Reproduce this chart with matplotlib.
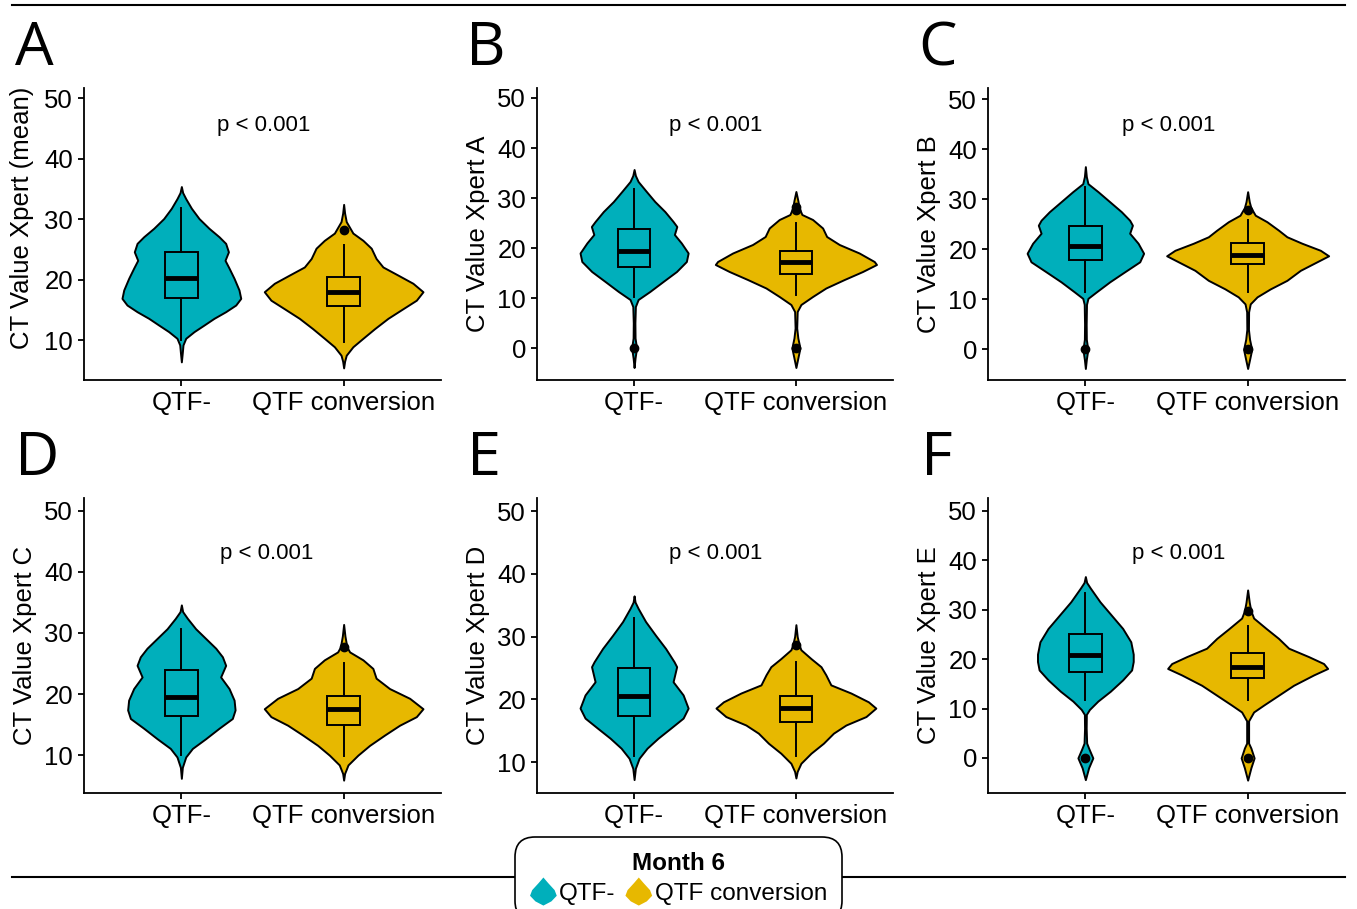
import numpy as np
import matplotlib
matplotlib.use("Agg")
import matplotlib.pyplot as plt
from matplotlib.lines import Line2D
from matplotlib.patches import Patch, Polygon
from matplotlib.legend_handler import HandlerPatch

plt.rcParams['font.family'] = ['Liberation Sans', 'DejaVu Sans']

# groups and colours
groups = ["QTF-", "QTF conversion"]
colors = ["#00AFBB", "#E7B800"]
letters = ["A", "B", "C", "D", "E", "F"]
ylabels = ["CT Value Xpert (mean)", "CT Value Xpert A", "CT Value Xpert B",
           "CT Value Xpert C", "CT Value Xpert D", "CT Value Xpert E"]
p_text = "p < 0.001"

# violin outlines: CT value levels and half widths
a_neg_y = [35.4, 34.4, 33.4, 31.8, 30.1, 28.5, 27.1, 26.0, 24.6, 23.2, 21.9, 20.2,
           18.3, 16.9, 15.8, 14.7, 13.6, 12.5, 11.4, 10.3, 9.2, 8.0, 6.4]
a_neg_w = [0, 0.008, 0.027, 0.062, 0.109, 0.17, 0.232, 0.273, 0.29, 0.269, 0.294, 0.325,
           0.355, 0.366, 0.335, 0.273, 0.201, 0.14, 0.078, 0.027, 0.01, 0.006, 0]
a_conv_y = [32.45, 31.0, 29.6, 27.7, 26.5, 25.2, 23.5, 22.1, 20.75, 19.4, 18.0, 16.6,
            15.2, 13.6, 11.9, 10.3, 8.9, 7.5, 6.5, 5.4]
a_conv_w = [0, 0.006, 0.016, 0.057, 0.119, 0.17, 0.2, 0.242, 0.335, 0.427, 0.489, 0.448,
            0.366, 0.273, 0.191, 0.119, 0.057, 0.016, 0.006, 0]

b_neg_y = [35.7, 34.5, 33.3, 31.3, 29.3, 27.3, 25.3, 24.3, 22.7, 21.0, 19.0, 17.3,
           15.3, 13.3, 11.3, 9.7, 8.3, 5.0, 2.0, 0.0, -2.0, -3.9]
b_neg_w = [0, 0.008, 0.025, 0.076, 0.128, 0.19, 0.241, 0.264, 0.249, 0.292, 0.334, 0.323,
           0.262, 0.179, 0.097, 0.025, 0.008, 0.005, 0.006, 0.015, 0.006, 0]
b_conv_y = [31.3, 29.5, 28.0, 26.7, 25.7, 24.0, 22.3, 20.7, 19.0, 17.3, 16.7, 15.3,
            13.7, 12.0, 10.3, 8.7, 7.3, 4.0, 2.0, 0.0, -2.0, -3.9]
b_conv_w = [0, 0.012, 0.02, 0.037, 0.103, 0.165, 0.19, 0.268, 0.391, 0.484, 0.498, 0.412,
            0.299, 0.185, 0.103, 0.031, 0.008, 0.005, 0.012, 0.025, 0.012, 0]

c_neg_y = [36.5, 34.5, 33.1, 31.5, 29.5, 27.5, 25.8, 24.8, 23.2, 21.2, 19.2, 17.5,
           15.5, 13.5, 11.5, 10.2, 9.0, 5.0, 2.0, 0.0, -2.0, -3.8]
c_neg_w = [0, 0.006, 0.016, 0.078, 0.15, 0.222, 0.273, 0.29, 0.273, 0.325, 0.359, 0.335,
           0.242, 0.15, 0.068, 0.016, 0.007, 0.005, 0.006, 0.015, 0.006, 0]
c_conv_y = [31.5, 29.5, 28.3, 26.8, 25.5, 23.8, 22.5, 21.2, 19.8, 18.7, 17.5, 15.8,
            13.8, 12.1, 10.5, 9.1, 7.5, 4.0, 2.0, 0.0, -2.0, -3.8]
c_conv_w = [0, 0.01, 0.02, 0.047, 0.119, 0.191, 0.242, 0.335, 0.448, 0.499, 0.427, 0.325,
            0.242, 0.14, 0.058, 0.016, 0.006, 0.005, 0.012, 0.025, 0.012, 0]

d_neg_y = [34.6, 33.5, 32.4, 30.7, 29.1, 27.5, 26.1, 24.7, 22.8, 20.9, 19.0, 17.4,
           16.0, 14.4, 12.7, 11.1, 9.7, 8.0, 6.2]
d_neg_w = [0, 0.008, 0.037, 0.088, 0.15, 0.212, 0.253, 0.273, 0.242, 0.294, 0.325, 0.331,
           0.314, 0.232, 0.15, 0.068, 0.027, 0.006, 0]
d_conv_y = [31.4, 29.5, 27.7, 26.9, 25.6, 24.2, 22.6, 20.9, 19.3, 17.6, 16.3, 14.9,
            13.3, 11.6, 10.0, 8.4, 7.0, 5.9]
d_conv_w = [0, 0.008, 0.02, 0.037, 0.119, 0.18, 0.2, 0.283, 0.407, 0.489, 0.448, 0.345,
            0.253, 0.16, 0.088, 0.027, 0.006, 0]

e_neg_y = [36.5, 35.5, 34.5, 32.4, 30.2, 28.1, 26.0, 25.2, 22.8, 20.7, 18.6, 17.0,
           15.4, 13.8, 12.2, 10.6, 9.0, 7.2]
e_neg_w = [0, 0.006, 0.025, 0.071, 0.133, 0.195, 0.247, 0.263, 0.241, 0.303, 0.334, 0.303,
           0.226, 0.148, 0.08, 0.031, 0.008, 0]
e_conv_y = [31.9, 30.0, 28.65, 27.9, 26.5, 25.2, 23.9, 22.3, 21.0, 19.6, 18.6, 17.25,
            15.9, 14.6, 13.0, 11.4, 9.8, 8.5, 7.45]
e_conv_w = [0, 0.008, 0.02, 0.031, 0.093, 0.155, 0.185, 0.216, 0.34, 0.448, 0.494, 0.433,
            0.309, 0.232, 0.17, 0.093, 0.031, 0.008, 0]

f_neg_y = [36.7, 35.5, 34.4, 31.6, 28.9, 26.2, 23.5, 21.0, 19.5, 17.8, 15.8, 13.5,
           11.5, 9.8, 8.8, 6.0, 3.0, 2.0, 0.0, -2.0, -4.4]
f_neg_w = [0, 0.008, 0.03, 0.09, 0.16, 0.23, 0.28, 0.295, 0.295, 0.285, 0.23, 0.154,
           0.077, 0.025, 0.006, 0.005, 0.008, 0.02, 0.046, 0.02, 0]
f_conv_y = [34.0, 31.5, 29.75, 28.3, 26.2, 24.2, 22.2, 20.5, 19.1, 18.1, 16.8, 14.7,
            12.7, 10.7, 9.3, 7.5, 3.0, 2.0, 0.0, -2.0, -4.5]
f_conv_w = [0, 0.01, 0.02, 0.037, 0.114, 0.19, 0.253, 0.376, 0.468, 0.493, 0.407, 0.283,
            0.191, 0.099, 0.037, 0.006, 0.006, 0.02, 0.04, 0.02, 0]

# box stats: whisker low, Q1, median, Q3, whisker high
a_neg_box, a_conv_box = [10.0, 17.0, 20.2, 24.5, 31.8], [9.7, 15.6, 18.0, 20.5, 25.7]
b_neg_box, b_conv_box = [10.3, 16.2, 19.3, 23.8, 31.7], [10.7, 14.9, 17.2, 19.3, 25.0]
c_neg_box, c_conv_box = [11.5, 17.8, 20.6, 24.6, 32.5], [11.5, 17.1, 18.8, 21.3, 25.8]
d_neg_box, d_conv_box = [10.0, 16.4, 19.55, 23.9, 30.7], [9.9, 14.9, 17.6, 19.7, 25.1]
e_neg_box, e_conv_box = [10.9, 17.3, 20.5, 24.95, 33.0], [10.9, 16.45, 18.6, 20.5, 25.9]
f_neg_box, f_conv_box = [11.7, 17.4, 20.8, 25.1, 33.3], [11.7, 16.25, 18.5, 21.2, 26.6]

# outliers
a_neg_out, a_conv_out = [], [28.2]
b_neg_out, b_conv_out = [0], [0, 27.6, 28.2]
c_neg_out, c_conv_out = [0], [0, 27.9]
d_neg_out, d_conv_out = [], [27.7]
e_neg_out, e_conv_out = [], [28.65]
f_neg_out, f_conv_out = [0], [0, 29.75]

# axis ranges and ticks
ylims = [(3.4, 51.7), (-6.4, 52.0), (-6.1, 52.2), (3.8, 52.1), (5.06, 52.1), (-7.1, 52.6)]
yticks = [[10, 20, 30, 40, 50], [0, 10, 20, 30, 40, 50], [0, 10, 20, 30, 40, 50],
          [10, 20, 30, 40, 50], [10, 20, 30, 40, 50], [0, 10, 20, 30, 40, 50]]

panels = [
    ((a_neg_y, a_neg_w, a_neg_box, a_neg_out), (a_conv_y, a_conv_w, a_conv_box, a_conv_out)),
    ((b_neg_y, b_neg_w, b_neg_box, b_neg_out), (b_conv_y, b_conv_w, b_conv_box, b_conv_out)),
    ((c_neg_y, c_neg_w, c_neg_box, c_neg_out), (c_conv_y, c_conv_w, c_conv_box, c_conv_out)),
    ((d_neg_y, d_neg_w, d_neg_box, d_neg_out), (d_conv_y, d_conv_w, d_conv_box, d_conv_out)),
    ((e_neg_y, e_neg_w, e_neg_box, e_neg_out), (e_conv_y, e_conv_w, e_conv_box, e_conv_out)),
    ((f_neg_y, f_neg_w, f_neg_box, f_neg_out), (f_conv_y, f_conv_w, f_conv_box, f_conv_out)),
]

# layout in pixels
W, H = 1357, 909
cols = [(84, 441), (537, 893), (988, 1345)]
rows = [(88, 380), (498, 793)]
letter_pos = [(15, 65), (466, 65), (918, 65), (15, 475), (467, 475), (921, 475)]
p_pos = [(0.504, 0.873), (0.503, 0.873), (0.507, 0.873),
         (0.513, 0.813), (0.503, 0.813), (0.535, 0.813)]
ylab_y = [0.555, 0.5, 0.5, 0.5, 0.5, 0.5]

fig = plt.figure(figsize=(W / 100, H / 100), dpi=100)

for i, grp_data in enumerate(panels):
    l, r = cols[i % 3]
    t, b = rows[i // 3]
    ax = fig.add_axes([l / W, 1 - b / H, (r - l) / W, (b - t) / H])

    for k, (ys, ws, box, outs) in enumerate(grp_data):
        pos = k + 1
        ys = np.array(ys)
        ws = np.array(ws)
        vstats = [{'coords': ys, 'vals': ws, 'mean': box[2], 'median': box[2],
                   'min': ys.min(), 'max': ys.max()}]
        parts = ax.violin(vstats, positions=[pos], widths=[2 * ws.max()],
                          showmeans=False, showextrema=False, showmedians=False)
        for body in parts['bodies']:
            body.set_facecolor(colors[k])
            body.set_edgecolor('black')
            body.set_linewidth(1.4)
            body.set_alpha(1)
            body.set_joinstyle('round')

        bstats = [{'whislo': box[0], 'q1': box[1], 'med': box[2], 'q3': box[3],
                   'whishi': box[4], 'fliers': outs}]
        ax.bxp(bstats, positions=[pos], widths=0.2, patch_artist=True, showcaps=False,
               boxprops=dict(facecolor=colors[k], edgecolor='black', linewidth=1.4),
               whiskerprops=dict(color='black', linewidth=1.4),
               medianprops=dict(color='black', linewidth=3.5, solid_capstyle='butt'),
               flierprops=dict(marker='o', markerfacecolor='black', markeredgecolor='black',
                               markersize=6))

    ax.set_xlim(0.4, 2.6)
    ax.set_ylim(*ylims[i])
    ax.set_yticks(yticks[i])
    ax.set_xticks([1, 2])
    ax.set_xticklabels(groups)
    ax.spines['top'].set_visible(False)
    ax.spines['right'].set_visible(False)
    for s in ['left', 'bottom']:
        ax.spines[s].set_linewidth(1.3)
    ax.tick_params(axis='both', direction='out', length=4, width=1.3,
                   labelsize=18.5, colors='black', pad=4)
    ax.set_ylabel(ylabels[i], fontsize=18.5, labelpad=5)
    if ylab_y[i] != 0.5:
        ax.yaxis.set_label_coords(-0.14, ylab_y[i])
    ax.text(p_pos[i][0], p_pos[i][1], p_text, transform=ax.transAxes,
            ha='center', va='center', fontsize=16)

    fig.text(letter_pos[i][0] / W, 1 - letter_pos[i][1] / H, letters[i],
             family='Open Sans', fontsize=44, ha='left', va='baseline')

# rules at top and bottom
fig.add_artist(Line2D([12 / W, 1345 / W], [1 - 5 / H, 1 - 5 / H], color='black', lw=1.5))
fig.add_artist(Line2D([12 / W, 1345 / W], [1 - 877 / H, 1 - 877 / H], color='black', lw=1.5))


def violin_key(legend, orig_handle, xdescent, ydescent, width, height, fontsize):
    cx = -xdescent + width / 2
    y0 = -ydescent
    fy = [1.0, 0.8, 0.55, 0.35, 0.15, 0.0]
    fw = [0.0, 0.18, 0.42, 0.5, 0.3, 0.0]
    left = [(cx - w * width, y0 + f * height) for f, w in zip(fy, fw)]
    right = [(cx + w * width, y0 + f * height) for f, w in zip(fy[::-1], fw[::-1])]
    return Polygon(left + right, closed=True)


handles = [Patch(facecolor=c, edgecolor='none') for c in colors]
leg = fig.legend(handles, groups, title="Month 6", loc='upper center',
                 bbox_to_anchor=(0.5, 1 - 842 / H), ncol=2, fontsize=17.5,
                 title_fontproperties={'weight': 'bold', 'size': 17.5},
                 handler_map={Patch: HandlerPatch(patch_func=violin_key)},
                 handlelength=1.1, handleheight=1.4, handletextpad=0.1,
                 columnspacing=0.4, borderaxespad=0, borderpad=0.4,
                 frameon=True, fancybox=True, framealpha=1)
frame = leg.get_frame()
frame.set_edgecolor('black')
frame.set_linewidth(1.2)
frame.set_boxstyle('round,pad=0.2,rounding_size=0.8')
leg._legend_box.sep = 2

fig.savefig("out.png", dpi=100)
